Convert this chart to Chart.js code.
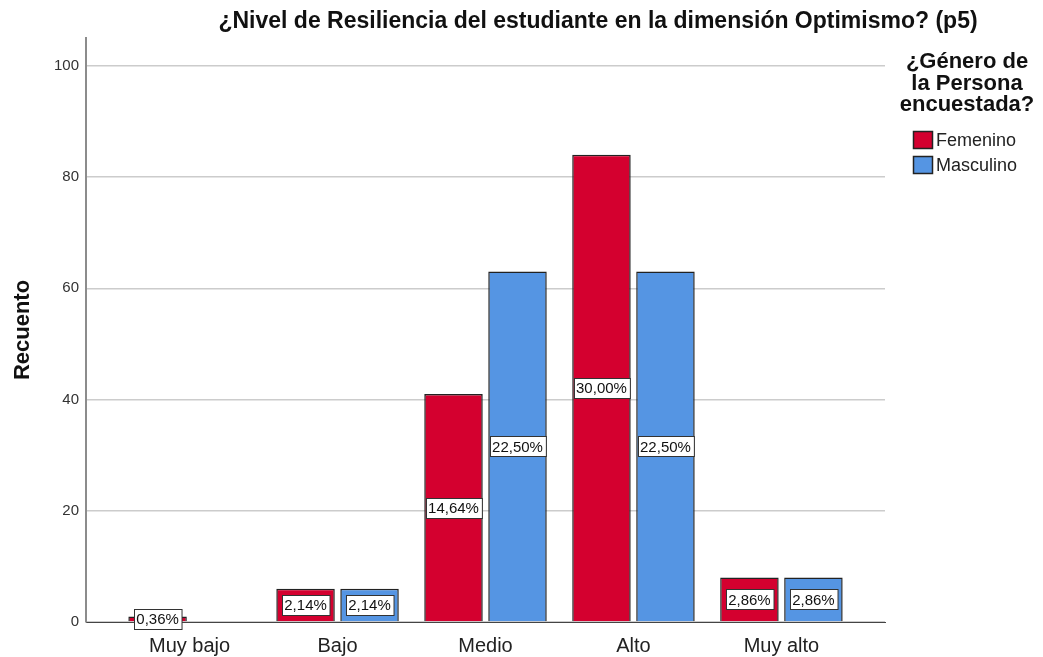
<!DOCTYPE html>
<html>
<head>
<meta charset="utf-8">
<script src="https://cdn.jsdelivr.net/npm/chart.js@4.4.1/dist/chart.umd.min.js"></script>
<style>
  body { margin: 0; background: #fff; }
</style>
</head>
<body>
<canvas id="optimismoChart" width="1043" height="657"></canvas>
<script>
  const categories = ["Muy bajo", "Bajo", "Medio", "Alto", "Muy alto"];
  const femenino = [1, 6, 41, 84, 8];
  const masculino = [0, 6, 63, 63, 8];
  const totalCount = 280;
  const yTickValues = [0, 20, 40, 60, 80, 100];
  const legendTitle = ["¿Género de", "la Persona", "encuestada?"];
  const chartTitle = "¿Nivel de Resiliencia del estudiante en la dimensión Optimismo? (p5)";

  const FONT = "'Liberation Sans', Arial, sans-serif";

  const toPoints = (arr) => arr.map((v, i) => ({ x: i, y: v }));
  const pct = (v) => ((v / totalCount) * 100).toFixed(2).replace(".", ",") + "%";

  // title + legend drawn by hand (SPSS style)
  const decorPlugin = {
    id: "decor",
    afterDraw(chart) {
      const ctx = chart.ctx;
      ctx.save();
      ctx.fillStyle = "#111";
      ctx.textAlign = "center";
      ctx.textBaseline = "middle";
      ctx.font = "bold 23px " + FONT;
      ctx.fillText(chartTitle, 598, 22);

      ctx.font = "bold 22px " + FONT;
      legendTitle.forEach((line, i) => {
        ctx.fillText(line, 967, 62 + i * 21.5);
      });

      ctx.textAlign = "left";
      ctx.font = "18px " + FONT;
      chart.data.datasets.forEach((ds, i) => {
        const y = 131 + i * 25;
        ctx.fillStyle = ds.backgroundColor;
        ctx.fillRect(913, y, 20, 18);
        ctx.strokeStyle = "#222";
        ctx.lineWidth = 1.5;
        ctx.strokeRect(913.5, y + 0.5, 19, 17);
        ctx.fillStyle = "#222";
        ctx.fillText(ds.label, 936, y + 10);
      });
      ctx.restore();
    },
  };

  // percentage boxes in the middle of each bar
  const pctLabels = {
    id: "pctLabels",
    afterDatasetsDraw(chart) {
      const ctx = chart.ctx;
      ctx.save();
      ctx.font = "15px " + FONT;
      ctx.textAlign = "center";
      ctx.textBaseline = "middle";
      chart.data.datasets.forEach((ds, di) => {
        const meta = chart.getDatasetMeta(di);
        meta.data.forEach((bar, i) => {
          const v = ds.data[i].y;
          if (!v) return;
          const txt = pct(v);
          const cy = (bar.y + bar.base) / 2;
          const w = ctx.measureText(txt).width + 5;
          const h = 20;
          const x0 = Math.round(bar.x - w / 2) + 0.5;
          const y0 = Math.round(cy - h / 2) + 0.5;
          ctx.fillStyle = "#fff";
          ctx.fillRect(x0, y0, w, h);
          ctx.strokeStyle = "#333";
          ctx.lineWidth = 1;
          ctx.strokeRect(x0, y0, w, h);
          ctx.fillStyle = "#111";
          ctx.fillText(txt, bar.x, cy + 1);
        });
      });
      ctx.restore();
    },
  };

  const ctx = document.getElementById("optimismoChart");

  new Chart(ctx, {
    type: "bar",
    data: {
      datasets: [
        {
          label: "Femenino",
          data: toPoints(femenino),
          backgroundColor: "#d4002f",
          borderColor: "#222222",
          borderWidth: 1.5,
          categoryPercentage: 0.865,
          barPercentage: 0.914,
        },
        {
          label: "Masculino",
          data: toPoints(masculino),
          backgroundColor: "#5595e3",
          borderColor: "#222222",
          borderWidth: 1.5,
          categoryPercentage: 0.865,
          barPercentage: 0.914,
        },
      ],
    },
    options: {
      responsive: false,
      animation: false,
      layout: {
        padding: { top: 38, right: 158, left: 0, bottom: 0 },
      },
      scales: {
        x: {
          type: "linear",
          offset: false,
          min: -0.7,
          max: 4.7,
          afterBuildTicks: (scale) => {
            scale.ticks = categories.map((c, i) => ({ value: i }));
          },
          afterFit: (scale) => {
            scale.height = 35;
          },
          grid: { display: false, drawTicks: false },
          border: { display: true, color: "#444", width: 1 },
          ticks: {
            padding: 12,
            maxRotation: 0,
            autoSkip: false,
            color: "#222",
            font: { family: FONT, size: 20 },
            callback: (v) => categories[v],
          },
        },
        y: {
          min: 0,
          max: 105,
          afterBuildTicks: (scale) => {
            scale.ticks = yTickValues.map((v) => ({ value: v }));
          },
          afterFit: (scale) => {
            scale.width = 86;
          },
          grid: { color: "#cccccc", lineWidth: 1.5, drawTicks: false },
          border: { display: true, color: "#8c8c8c", width: 2 },
          ticks: {
            padding: 7,
            color: "#333",
            font: { family: FONT, size: 15 },
          },
          title: {
            display: true,
            text: "Recuento",
            color: "#111",
            font: { family: FONT, size: 22, weight: "bold" },
            padding: { top: 10, bottom: 0 },
          },
        },
      },
      plugins: {
        legend: { display: false },
        tooltip: { enabled: false },
      },
    },
    plugins: [pctLabels, decorPlugin],
  });
</script>
</body>
</html>
